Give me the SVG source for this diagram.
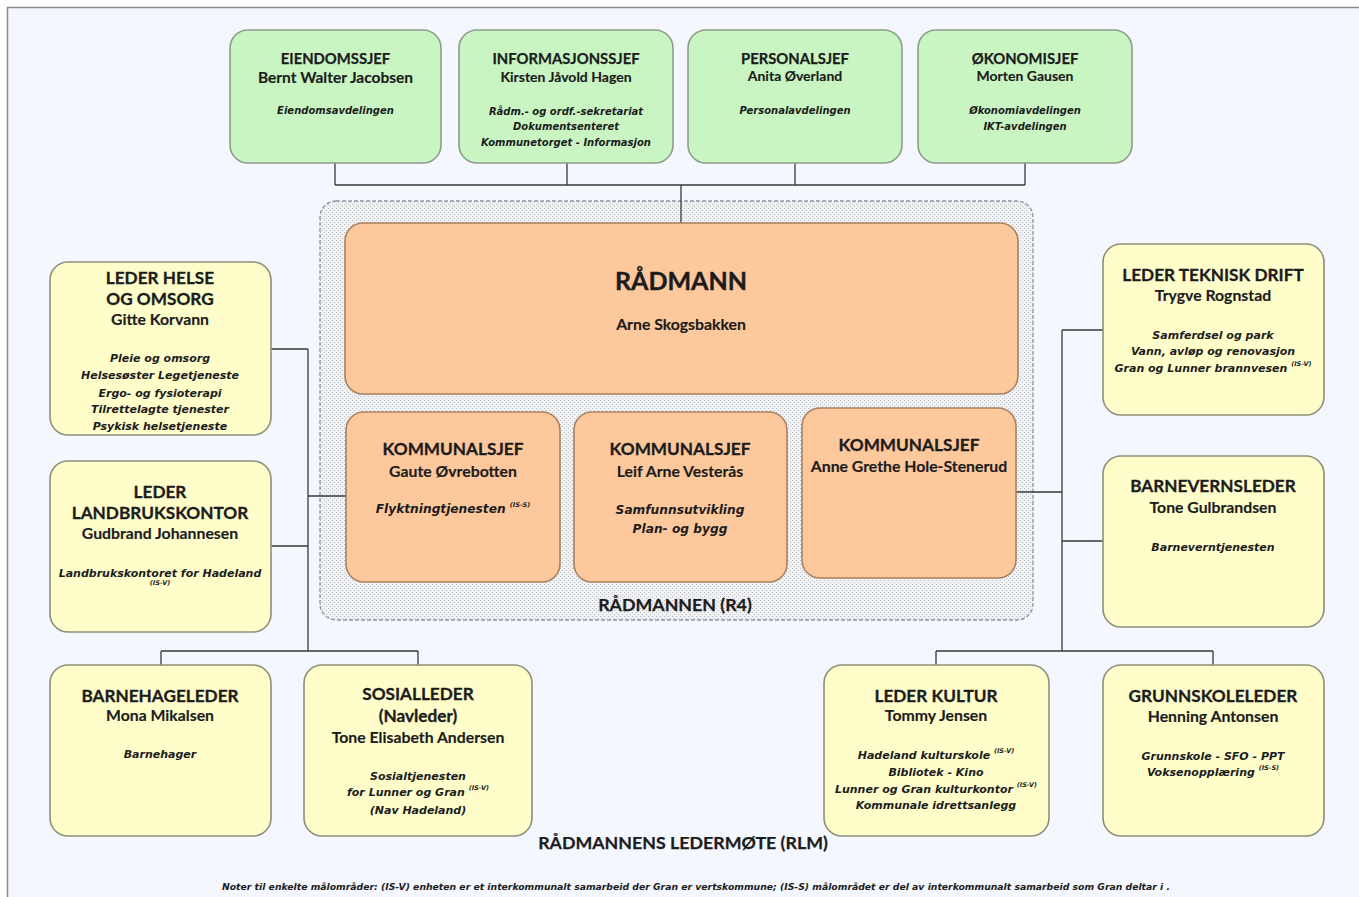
<svg xmlns="http://www.w3.org/2000/svg" width="1359" height="897" viewBox="0 0 1359 897">
<defs>
<pattern id="hatch" width="4" height="4" patternUnits="userSpaceOnUse">
<rect width="4" height="4" fill="#f1f2f4"/>
<rect x="0" y="0" width="1" height="1" fill="#b9bcc2"/>
<rect x="2" y="2" width="1" height="1" fill="#b9bcc2"/>
</pattern>
<style>
.bg{fill:#f4f7fd;stroke:#8a8a8a;stroke-width:1.5}
.green{fill:#c9f5c3;stroke:#8c9c8a;stroke-width:1.6}
.yellow{fill:#fffecb;stroke:#8e8e7c;stroke-width:1.6}
.orange{fill:#fdc89c;stroke:#a8815f;stroke-width:1.6}
.cont{fill:url(#hatch);stroke:#8c96a4;stroke-width:1.3;stroke-dasharray:4 2}
.conn{fill:none;stroke:#3a3a3a;stroke-width:1.3}
text{font-family:Lato,"Liberation Sans",sans-serif;fill:#1c1c1c;text-anchor:middle}
.tt{font-size:14.8px;font-weight:bold;stroke:#1c1c1c;stroke-width:0.25}
.tn{font-size:14px;font-weight:bold;stroke:#1c1c1c;stroke-width:0.15}
.ti{font-family:"DejaVu Sans",sans-serif;font-size:10px;font-weight:bold;font-style:italic}
.yt{font-size:17.2px;font-weight:bold;stroke:#1c1c1c;stroke-width:0.3}
.yn{font-size:15.8px;font-weight:bold;stroke:#1c1c1c;stroke-width:0.15}
.yi{font-family:"DejaVu Sans",sans-serif;font-size:11px;font-weight:bold;font-style:italic}
.ki{font-family:"DejaVu Sans",sans-serif;font-size:12.2px;font-weight:bold;font-style:italic}
.sup{font-family:"DejaVu Sans",sans-serif;font-size:6.5px;font-weight:bold;font-style:italic}
.big{font-size:25px;font-weight:bold;stroke:#1c1c1c;stroke-width:0.4}
.lbl{font-size:17.8px;font-weight:bold;stroke:#1c1c1c;stroke-width:0.25}
.note{font-family:"DejaVu Sans",sans-serif;font-size:8.6px;font-weight:bold;font-style:italic}
</style>
</defs>
<rect x="0" y="0" width="1359" height="897" fill="#ffffff"/>
<rect class="bg" x="7.5" y="7.5" width="1360" height="900"/>

<g id="container">
<rect class="cont" x="320" y="201" width="713" height="419" rx="16"/>
<text class="lbl" x="675" y="611">RÅDMANNEN (R4)</text>
</g>

<g id="connectors">
<path class="conn" d="M335 163V185M567 163V185M795 163V185M1025 163V185M335 185H1025M681 185V223"/>
<path class="conn" d="M271 349H308M308 349V651M271 546H308M308 496H346M161 651H418M161 651V665M418 651V665"/>
<path class="conn" d="M1103 330H1062M1062 330V651M1103 541H1062M1016 492H1062M936 651H1213M936 651V665M1213 651V665"/>
</g>

<g id="eiendomssjef">
<rect class="green" x="230" y="30" width="211" height="133" rx="18"/>
<text class="tt" x="335.5" y="64">EIENDOMSSJEF</text>
<text class="tn" x="335.5" y="83" style="font-size:15.5px">Bernt Walter Jacobsen</text>
<text class="ti" x="335.5" y="114">Eiendomsavdelingen</text>
</g>
<g id="informasjonssjef">
<rect class="green" x="459" y="30" width="214" height="133" rx="18"/>
<text class="tt" x="566" y="64">INFORMASJONSSJEF</text>
<text class="tn" x="566" y="82">Kirsten Jåvold Hagen</text>
<text class="ti" x="566" y="115">Rådm.- og ordf.-sekretariat</text>
<text class="ti" x="566" y="130">Dokumentsenteret</text>
<text class="ti" x="566" y="146">Kommunetorget - Informasjon</text>
</g>
<g id="personalsjef">
<rect class="green" x="688" y="30" width="214" height="133" rx="18"/>
<text class="tt" x="795" y="64">PERSONALSJEF</text>
<text class="tn" x="795" y="81">Anita Øverland</text>
<text class="ti" x="795" y="114">Personalavdelingen</text>
</g>
<g id="okonomisjef">
<rect class="green" x="918" y="30" width="214" height="133" rx="18"/>
<text class="tt" x="1025" y="64">ØKONOMISJEF</text>
<text class="tn" x="1025" y="81">Morten Gausen</text>
<text class="ti" x="1025" y="114">Økonomiavdelingen</text>
<text class="ti" x="1025" y="130">IKT-avdelingen</text>
</g>

<g id="radmann">
<rect class="orange" x="345" y="223" width="673" height="171" rx="18"/>
<text class="big" x="681" y="290">RÅDMANN</text>
<text class="yn" x="681" y="330">Arne Skogsbakken</text>
</g>
<g id="kommunalsjef1">
<rect class="orange" x="346" y="412" width="214" height="170" rx="18"/>
<text class="yt" x="453" y="455">KOMMUNALSJEF</text>
<text class="yn" x="453" y="477">Gaute Øvrebotten</text>
<text class="ki" x="453" y="513">Flyktningtjenesten <tspan class="sup" dy="-6">(IS-S)</tspan></text>
</g>
<g id="kommunalsjef2">
<rect class="orange" x="574" y="412" width="213" height="170" rx="18"/>
<text class="yt" x="680" y="455">KOMMUNALSJEF</text>
<text class="yn" x="680" y="477">Leif Arne Vesterås</text>
<text class="ki" x="680" y="514">Samfunnsutvikling</text>
<text class="ki" x="680" y="533">Plan- og bygg</text>
</g>
<g id="kommunalsjef3">
<rect class="orange" x="802" y="408" width="214" height="170" rx="18"/>
<text class="yt" x="909" y="451">KOMMUNALSJEF</text>
<text class="yn" x="909" y="472">Anne Grethe Hole-Stenerud</text>
</g>

<g id="helse">
<rect class="yellow" x="50" y="262" width="221" height="173" rx="18"/>
<text class="yt" x="160" y="284">LEDER HELSE</text>
<text class="yt" x="160" y="305">OG OMSORG</text>
<text class="yn" x="160" y="325">Gitte Korvann</text>
<text class="yi" x="160" y="362">Pleie og omsorg</text>
<text class="yi" x="160" y="379">Helsesøster  Legetjeneste</text>
<text class="yi" x="160" y="397">Ergo- og fysioterapi</text>
<text class="yi" x="160" y="413">Tilrettelagte tjenester</text>
<text class="yi" x="160" y="430">Psykisk helsetjeneste</text>
</g>
<g id="landbruk">
<rect class="yellow" x="50" y="461" width="221" height="171" rx="18"/>
<text class="yt" x="160" y="498">LEDER</text>
<text class="yt" x="160" y="519">LANDBRUKSKONTOR</text>
<text class="yn" x="160" y="539">Gudbrand Johannesen</text>
<text class="yi" x="160" y="577">Landbrukskontoret for Hadeland</text>
<text class="sup" x="160" y="585">(IS-V)</text>
</g>
<g id="barnehage">
<rect class="yellow" x="50" y="665" width="221" height="171" rx="18"/>
<text class="yt" x="160" y="702">BARNEHAGELEDER</text>
<text class="yn" x="160" y="721">Mona Mikalsen</text>
<text class="yi" x="160" y="758">Barnehager</text>
</g>
<g id="sosialleder">
<rect class="yellow" x="304" y="665" width="228" height="171" rx="18"/>
<text class="yt" x="418" y="700">SOSIALLEDER</text>
<text class="yt" x="418" y="722">(Navleder)</text>
<text class="yn" x="418" y="743">Tone Elisabeth Andersen</text>
<text class="yi" x="418" y="780">Sosialtjenesten</text>
<text class="yi" x="418" y="796">for Lunner og Gran <tspan class="sup" dy="-6">(IS-V)</tspan></text>
<text class="yi" x="418" y="814">(Nav Hadeland)</text>
</g>

<g id="teknisk">
<rect class="yellow" x="1103" y="244" width="221" height="171" rx="18"/>
<text class="yt" x="1213" y="281">LEDER TEKNISK DRIFT</text>
<text class="yn" x="1213" y="301">Trygve Rognstad</text>
<text class="yi" x="1213" y="339">Samferdsel og park</text>
<text class="yi" x="1213" y="355">Vann, avløp og renovasjon</text>
<text class="yi" x="1213" y="372">Gran og Lunner brannvesen <tspan class="sup" dy="-6">(IS-V)</tspan></text>
</g>
<g id="barnevern">
<rect class="yellow" x="1103" y="456" width="221" height="171" rx="18"/>
<text class="yt" x="1213" y="492">BARNEVERNSLEDER</text>
<text class="yn" x="1213" y="513">Tone Gulbrandsen</text>
<text class="yi" x="1213" y="551">Barneverntjenesten</text>
</g>
<g id="kultur">
<rect class="yellow" x="824" y="665" width="225" height="171" rx="18"/>
<text class="yt" x="936" y="702">LEDER KULTUR</text>
<text class="yn" x="936" y="721">Tommy Jensen</text>
<text class="yi" x="936" y="759">Hadeland kulturskole <tspan class="sup" dy="-6">(IS-V)</tspan></text>
<text class="yi" x="936" y="776">Bibliotek - Kino</text>
<text class="yi" x="936" y="793">Lunner og Gran kulturkontor <tspan class="sup" dy="-6">(IS-V)</tspan></text>
<text class="yi" x="936" y="809">Kommunale idrettsanlegg</text>
</g>
<g id="grunnskole">
<rect class="yellow" x="1103" y="665" width="221" height="171" rx="18"/>
<text class="yt" x="1213" y="702">GRUNNSKOLELEDER</text>
<text class="yn" x="1213" y="722">Henning Antonsen</text>
<text class="yi" x="1213" y="760">Grunnskole - SFO - PPT</text>
<text class="yi" x="1213" y="776">Voksenopplæring <tspan class="sup" dy="-6">(IS-S)</tspan></text>
</g>

<g id="labels">
<text class="lbl" x="683" y="849">RÅDMANNENS LEDERMØTE (RLM)</text>
<text class="note" x="696" y="890" textLength="948" lengthAdjust="spacingAndGlyphs">Noter til enkelte målområder: (IS-V) enheten er et interkommunalt samarbeid der Gran er vertskommune; (IS-S) målområdet er del av interkommunalt samarbeid  som Gran deltar i .</text>
</g>
</svg>
